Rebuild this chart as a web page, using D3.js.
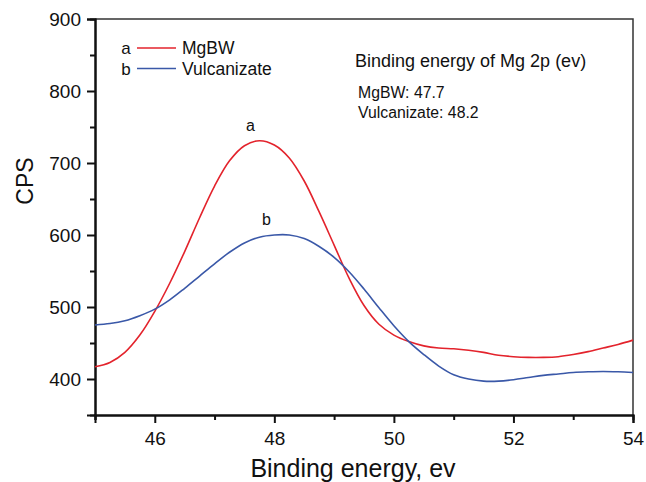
<!DOCTYPE html>
<html>
<head>
<meta charset="utf-8">
<title>Mg 2p XPS</title>
<script src="https://d3js.org/d3.v7.min.js"></script>
<style>
  body { margin: 0; background: #fff; }
  text { font-family: "Liberation Sans", Arial, sans-serif; fill: #111; }
</style>
</head>
<body>
<div id="chart"></div>
<script>
// binding energy (ev)
const energy = [45, 45.25, 45.5, 45.75, 46, 46.25, 46.5, 46.75, 47, 47.25, 47.5, 47.75,
  48, 48.25, 48.5, 48.75, 49, 49.25, 49.5, 49.75, 50, 50.25, 50.5, 50.75, 51, 51.25,
  51.5, 51.75, 52, 52.25, 52.5, 52.75, 53, 53.25, 53.5, 53.75, 54];

// a: MgBW
const mgbw = [417, 423, 437, 461, 494, 533, 577, 624, 668, 703, 724, 731,
  725, 707, 675, 632, 586, 540, 502, 476, 461, 452, 446, 443, 442, 440,
  437, 433, 431, 430, 430, 431, 434, 438, 443, 448, 454];

// b: Vulcanizate
const vulc = [475, 477, 481, 488, 497, 510, 526, 543, 560, 576, 589, 597,
  600, 600, 595, 584, 569, 549, 525, 499, 474, 452, 434, 418, 406, 400,
  397, 397, 399, 402, 405, 407, 409, 410, 410.5, 410, 409];

const xMajor = [46, 48, 50, 52, 54];
const xMinor = [45, 47, 49, 51, 53];
const yMajor = [400, 500, 600, 700, 800, 900];
const yMinor = [450, 550, 650, 750, 850];

const series = [
  { key: "a", name: "MgBW", values: mgbw, color: "#e3232c", peak: 47.7 },
  { key: "b", name: "Vulcanizate", values: vulc, color: "#3a58a8", peak: 48.2 }
];

const width = 646, height = 482;
const margin = { left: 95, top: 19, right: 13, bottom: 67 };

const svg = d3.select("#chart").append("svg")
  .attr("width", width).attr("height", height);

const x = d3.scaleLinear().domain([45, 54]).range([margin.left, width - margin.right]);
const y = d3.scaleLinear().domain([350, 900]).range([height - margin.bottom, margin.top]);

// frame (top and right)
svg.append("path")
  .attr("d", `M${x(45)},${y(900)}H${x(54)}V${y(350)}`)
  .attr("fill", "none").attr("stroke", "#333").attr("stroke-width", 1.5);

// axes
svg.append("g").attr("transform", `translate(0,${y(350)})`)
  .call(d3.axisBottom(x).tickValues(xMajor).tickSize(8).tickPadding(9).tickFormat(d3.format("d")));
svg.append("g").attr("transform", `translate(0,${y(350)})`)
  .call(d3.axisBottom(x).tickValues(xMinor).tickSize(5).tickFormat(""));
svg.append("g").attr("transform", `translate(${x(45)},0)`)
  .call(d3.axisLeft(y).tickValues(yMajor).tickSize(8).tickPadding(6));
svg.append("g").attr("transform", `translate(${x(45)},0)`)
  .call(d3.axisLeft(y).tickValues(yMinor).tickSize(5).tickFormat(""));

svg.selectAll(".domain").attr("stroke", "#111").attr("stroke-width", 2);
svg.selectAll(".tick line").attr("stroke", "#111").attr("stroke-width", 2);
svg.selectAll(".tick text").style("font-size", "19px").attr("fill", "#111");

// curves
const line = d3.line()
  .x((d, i) => x(energy[i]))
  .y(d => y(d))
  .curve(d3.curveCatmullRom);

svg.selectAll(".curve").data(series).enter().append("path")
  .attr("class", "curve")
  .attr("d", d => line(d.values))
  .attr("fill", "none")
  .attr("stroke", d => d.color)
  .attr("stroke-width", 1.6);

// curve labels
svg.append("text").attr("x", x(47.6)).attr("y", y(736) - 6)
  .attr("text-anchor", "middle").style("font-size", "16px").text("a");
svg.append("text").attr("x", x(47.87)).attr("y", y(605) - 6)
  .attr("text-anchor", "middle").style("font-size", "16px").text("b");

// legend
const legend = svg.append("g").attr("transform", "translate(122,48)");
series.forEach((s, i) => {
  const g = legend.append("g").attr("transform", `translate(0,${i * 20.5})`);
  g.append("text").attr("x", 4).attr("y", 6).attr("text-anchor", "middle")
    .style("font-size", "17px").text(s.key);
  g.append("line").attr("x1", 15).attr("x2", 54).attr("y1", 0).attr("y2", 0)
    .attr("stroke", s.color).attr("stroke-width", 1.6);
  g.append("text").attr("x", 60).attr("y", 6).style("font-size", "17.5px").text(s.name);
});

// annotation
svg.append("text").attr("x", 355).attr("y", 67).style("font-size", "18px")
  .text("Binding energy of Mg 2p (ev)");
series.forEach((s, i) => {
  svg.append("text").attr("x", 358).attr("y", 98 + i * 19.5).style("font-size", "15.8px")
    .text(`${s.name}: ${s.peak}`);
});

// axis titles
svg.append("text").attr("x", 353).attr("y", 477).attr("text-anchor", "middle")
  .style("font-size", "25px").text("Binding energy, ev");
svg.append("text").attr("transform", "translate(33,181) rotate(-90)")
  .attr("text-anchor", "middle").style("font-size", "23px").text("CPS");
</script>
</body>
</html>
